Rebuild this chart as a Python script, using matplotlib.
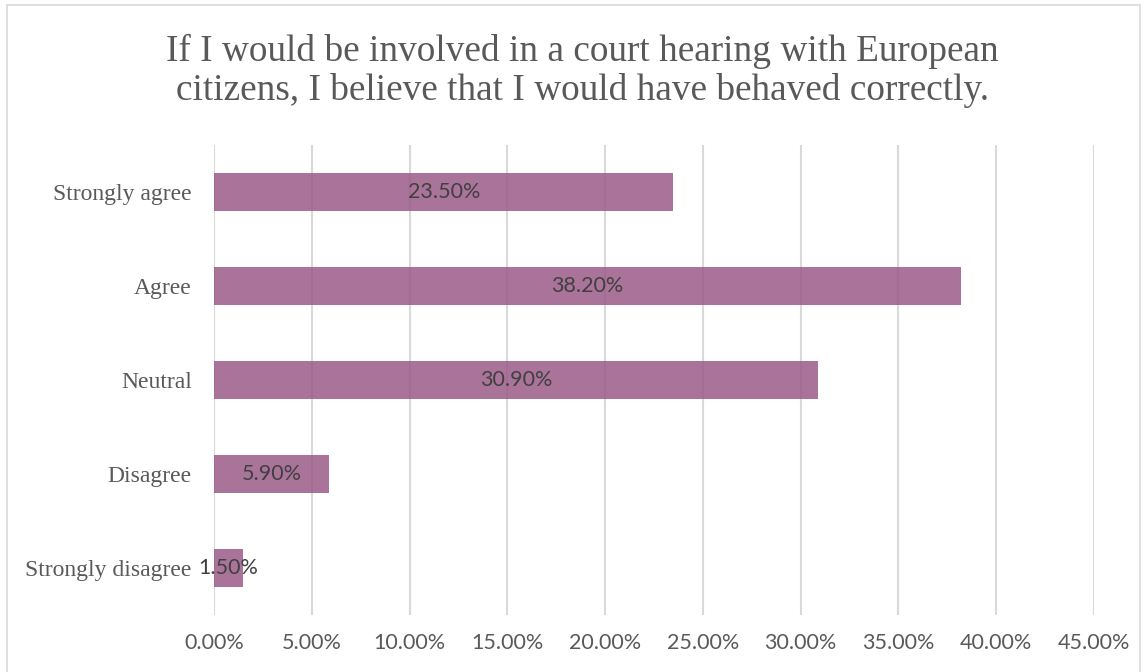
import matplotlib.pyplot as plt
from matplotlib.patches import Rectangle
from matplotlib.ticker import PercentFormatter

# Survey responses, share of respondents (%)
categories = ["Strongly agree", "Agree", "Neutral", "Disagree", "Strongly disagree"]
shares = [23.5, 38.2, 30.9, 5.9, 1.5]
title = ("If I would be involved in a court hearing with European\n"
         "citizens, I believe that I would have behaved correctly.")

fig = plt.figure(figsize=(11.47, 6.72), dpi=100)
ax = fig.add_axes([0.1866, 0.085, 0.767, 0.699])

ypos = list(range(len(categories)))
bars = ax.barh(ypos, shares, height=0.4, color="#9b5a88", alpha=0.85, zorder=3)

for b, v in zip(bars, shares):
    ax.text(b.get_width() / 2, b.get_y() + b.get_height() / 2, f"{v:.2f}%",
            ha="center", va="center", fontsize=15.5, color="#404040",
            family="Lato", zorder=4)

ax.set_xlim(0, 45)
ax.set_xticks(range(0, 46, 5))
ax.xaxis.set_major_formatter(PercentFormatter(decimals=2))
ax.set_ylim(len(categories) - 0.5, -0.5)
ax.set_yticks(ypos)
ax.set_yticklabels(categories, family="Liberation Serif", fontsize=17,
                   color="#595959")

ax.grid(axis="x", color="#d9d9d9", linewidth=1.5, zorder=0)
ax.tick_params(axis="y", length=0, pad=16)
ax.tick_params(axis="x", length=0, pad=13, labelsize=15.5, labelcolor="#595959")
for lbl in ax.get_xticklabels():
    lbl.set_family("Lato")
for s in ax.spines.values():
    s.set_visible(False)

fig.text(0.508, 0.894, title, ha="center", va="center", fontsize=26.8,
         family="Liberation Serif", color="#595959", linespacing=1.15)

# light frame around the chart
fig.patches.append(Rectangle((0.006, -0.01), 0.988, 1.002, transform=fig.transFigure,
                             fill=False, edgecolor="#d9d9d9", linewidth=1.2))

plt.savefig("out.png", dpi=100)
